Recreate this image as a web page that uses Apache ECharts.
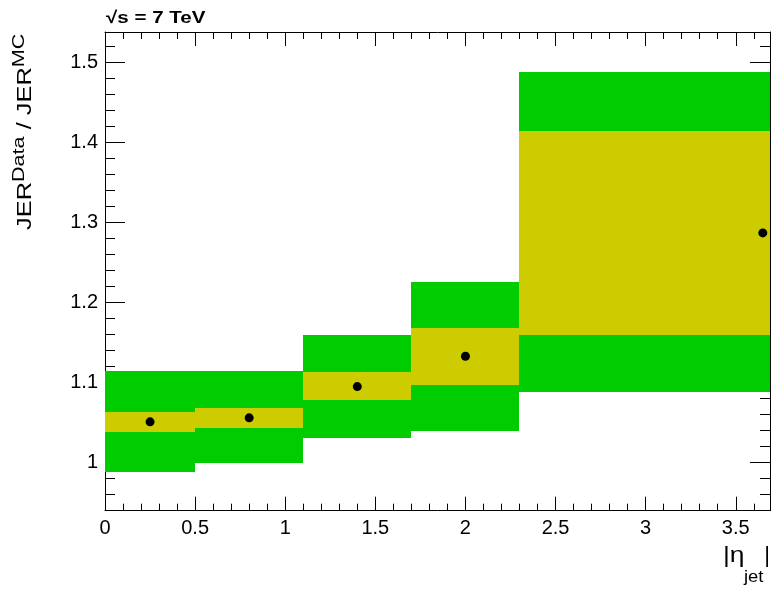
<!DOCTYPE html>
<html>
<head>
<meta charset="utf-8">
<script src="https://cdn.jsdelivr.net/npm/echarts@6/dist/echarts.min.js"></script>
<style>html,body{margin:0;padding:0;background:#fff;}#c{width:771px;height:590px;}</style>
</head>
<body>
<div id="c"></div>
<script>
// ---- data ----
const binLow   = [0.0, 0.5, 1.1, 1.7, 2.3];
const binHigh  = [0.5, 1.1, 1.7, 2.3, 5.0];
const etaCenter= [0.25, 0.80, 1.40, 2.00, 3.65];
const ratio    = [1.051, 1.056, 1.095, 1.133, 1.287];
const statLow  = [1.038, 1.043, 1.078, 1.097, 1.159];
const statHigh = [1.063, 1.068, 1.113, 1.168, 1.414];
const totLow   = [0.988, 1.000, 1.031, 1.040, 1.088];
const totHigh  = [1.114, 1.114, 1.160, 1.226, 1.488];
const xMajorTicks = [0, 0.5, 1, 1.5, 2, 2.5, 3, 3.5];
const yMajorTicks = [1.0, 1.1, 1.2, 1.3, 1.4, 1.5];
const X_MIN = 0, X_MAX = 3.69, Y_MIN = 0.94, Y_MAX = 1.538;

const xMinorTicks = [];
for (let k = 1; k <= 36; k++) if (k % 5 !== 0) xMinorTicks.push(+(k / 10).toFixed(2));
const yMinorTicks = [];
for (let k = 48; k <= 76; k++) if (k % 5 !== 0) yMinorTicks.push(+(k * 0.02).toFixed(2));

const FONT = 'Liberation Sans';
const GREEN = '#00cc00', YELLOW = '#cccc00';

function boxData(lo, hi) {
  return binLow.map((b, i) => [b, binHigh[i], lo[i], hi[i]]);
}
function boxRender(color) {
  return function (params, api) {
    const p0 = api.coord([api.value(0), api.value(3)]);
    const p1 = api.coord([api.value(1), api.value(2)]);
    const cs = params.coordSys;
    const x0 = Math.round(Math.max(p0[0], cs.x));
    const x1 = Math.round(Math.min(p1[0], cs.x + cs.width));
    const y0 = Math.round(Math.max(p0[1], cs.y));
    const y1 = Math.round(Math.min(p1[1], cs.y + cs.height));
    if (x1 <= x0 || y1 <= y0) return;
    return { type: 'rect', shape: { x: x0, y: y0, width: x1 - x0, height: y1 - y0 },
             style: { fill: color, stroke: null } };
  };
}

const grid = { left: 105, right: 1, top: 32, bottom: 79.3, containLabel: false };
function xAx(gi, pos, vals, len, labels, line) {
  return {
    type: 'value', gridIndex: gi, position: pos, min: X_MIN, max: X_MAX,
    axisLine: { show: line, onZero: false, lineStyle: { color: '#000', width: 1 } },
    axisTick: { show: true, inside: true, length: len, customValues: vals, lineStyle: { color: '#000', width: 1 } },
    axisLabel: { show: labels, customValues: vals, fontFamily: FONT, fontSize: 20, color: '#000', margin: 8 },
    splitLine: { show: false }
  };
}
function yAx(gi, pos, vals, len, labels, line) {
  return {
    type: 'value', gridIndex: gi, position: pos, min: Y_MIN, max: Y_MAX,
    axisLine: { show: line, onZero: false, lineStyle: { color: '#000', width: 1 } },
    axisTick: { show: true, inside: true, length: len, customValues: vals, lineStyle: { color: '#000', width: 1 } },
    axisLabel: { show: labels, customValues: vals, fontFamily: FONT, fontSize: 20, color: '#000', margin: 7 },
    splitLine: { show: false }
  };
}

// ---- text layout helpers ----
const mctx = document.createElement('canvas').getContext('2d');
function textW(str, size) { mctx.font = size + 'px "' + FONT + '"'; return mctx.measureText(str).width; }
const MID = 0.3465; // baseline offset below em-middle
function piece(str, size, x, y, extra) {
  return Object.assign({ type: 'text', x: x, y: y, z: 10,
    style: { text: str, font: size + 'px "' + FONT + '"', fill: '#000', lineHeight: size,
             align: 'left', verticalAlign: 'middle' } }, extra || {});
}

// y-axis title: rotated pieces, flowing upward from y=230
const yTitle = [];
(function () {
  const SX = 1.27, MAIN = 20, SUP = 17;
  const mainBase = 32.3, supBase = 25.3;
  const parts = [['JER', MAIN, mainBase], ['Data', SUP, supBase], [' / JER', MAIN, mainBase], ['MC', SUP, supBase]];
  let y = 230;
  parts.forEach(p => {
    yTitle.push(piece(p[0], p[1], p[2] - MID * p[1], y, { rotation: Math.PI / 2, scaleX: SX }));
    y -= textW(p[0], p[1]) * SX;
  });
})();

// x-axis title
const xTitle = [
  piece('|\u03B7', 22, 723, 563.4 - MID * 22, { scaleX: 1.2 }),
  piece('jet', 16, 744, 583.6 - MID * 16, { scaleX: 1.15 }),
  piece('|', 22, 770, 563.4 - MID * 22),
];
xTitle[2].style.align = 'right';

const option = {
  animation: false,
  backgroundColor: '#fff',
  grid: [grid, Object.assign({}, grid)],
  xAxis: [
    xAx(0, 'bottom', xMajorTicks, 14, true, true),
    xAx(0, 'top', xMajorTicks, 14, false, true),
    xAx(1, 'bottom', xMinorTicks, 7, false, false),
    xAx(1, 'top', xMinorTicks, 7, false, false)
  ],
  yAxis: [
    yAx(0, 'left', yMajorTicks, 20, true, true),
    yAx(0, 'right', yMajorTicks, 20, false, true),
    yAx(1, 'left', yMinorTicks, 10, false, false),
    yAx(1, 'right', yMinorTicks, 10, false, false)
  ],
  series: [
    { type: 'custom', xAxisIndex: 0, yAxisIndex: 0, renderItem: boxRender(GREEN),
      data: boxData(totLow, totHigh), encode: { x: [0, 1], y: [2, 3] }, z: 1 },
    { type: 'custom', xAxisIndex: 0, yAxisIndex: 0, renderItem: boxRender(YELLOW),
      data: boxData(statLow, statHigh), encode: { x: [0, 1], y: [2, 3] }, z: 2 },
    { type: 'scatter', xAxisIndex: 0, yAxisIndex: 0, symbol: 'circle', symbolSize: 9,
      itemStyle: { color: '#000', opacity: 1 }, data: etaCenter.map((x, i) => [x, ratio[i]]), z: 3 }
  ],
  graphic: [
    { type: 'text', x: 106, y: 18, scaleX: 1.21, z: 10,
      style: { text: '\u221As = 7 TeV', font: 'bold 17px "Liberation Sans"', fill: '#000',
               align: 'left', verticalAlign: 'middle' } }
  ].concat(yTitle, xTitle)
};
const chart = echarts.init(document.getElementById('c'), null, { renderer: 'canvas' });
chart.setOption(option);
</script>
</body>
</html>
